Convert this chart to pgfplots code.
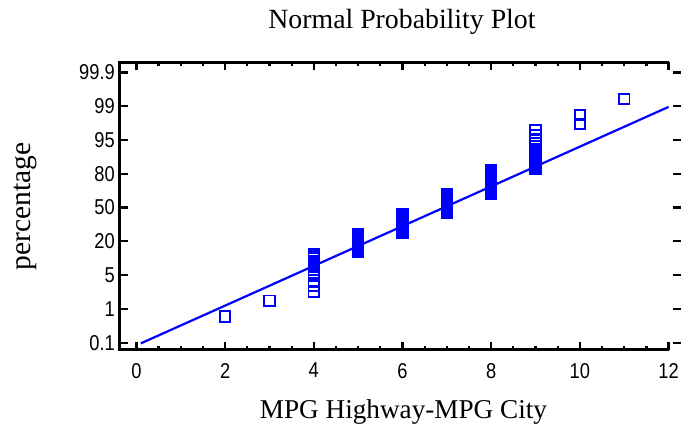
\documentclass[border=0pt]{standalone}
\usepackage{pgfplots}
\pgfplotsset{compat=1.18}
\usepackage{fontspec}
\setmainfont{Liberation Serif}
\newfontfamily\tickfont[FakeStretch=0.85]{Liberation Sans}
\definecolor{pblue}{RGB}{0,0,255}

\pgfplotstableread{
x k
2 0.77
3 1.24
4 1.50
4 1.69
4 1.84
4 1.97
4 2.08
4 2.17
4 2.26
4 2.34
4 2.42
4 2.49
4 2.55
4 2.62
5 2.68
5 2.73
5 2.79
5 2.84
5 2.89
5 2.94
5 2.99
5 3.04
5 3.08
5 3.12
5 3.17
5 3.21
6 3.25
6 3.29
6 3.33
6 3.37
6 3.41
6 3.45
6 3.49
6 3.52
6 3.56
6 3.60
6 3.63
6 3.67
6 3.71
6 3.74
6 3.78
6 3.81
7 3.85
7 3.88
7 3.92
7 3.96
7 3.99
7 4.03
7 4.06
7 4.10
7 4.13
7 4.17
7 4.20
7 4.24
7 4.27
7 4.31
7 4.35
7 4.38
8 4.42
8 4.46
8 4.49
8 4.53
8 4.57
8 4.61
8 4.65
8 4.69
8 4.73
8 4.77
8 4.81
8 4.86
8 4.90
8 4.94
8 4.99
8 5.04
8 5.09
9 5.14
9 5.19
9 5.25
9 5.30
9 5.36
9 5.43
9 5.49
9 5.56
9 5.64
9 5.72
9 5.81
9 5.90
9 6.01
9 6.14
9 6.29
10 6.48
10 6.74
11 7.21
}\datatable

\begin{document}
\begin{tikzpicture}
\path[use as bounding box] (-120pt,-77pt) rectangle (561pt,350pt);
\begin{axis}[
  at={(0pt,0pt)}, anchor=south west,
  scale only axis, width=561pt, height=287.7pt,
  xmin=-0.37, xmax=12.28, ymin=-0.216, ymax=8.30,
  axis line style={draw=none},
  tick align=inside,
  xtick={0,2,...,12}, minor x tick num=3,
  ytick={0,1,2,3,4,5,6,7,8},
  yticklabels={0.1,1,5,20,50,80,95,99,99.9},
  major tick length=8pt, minor tick length=4pt,
  tick style={black, line width=2.2pt},
  /pgf/number format/assume math mode=true,
  ticklabel style={font=\tickfont\fontsize{21.5}{21.5}\selectfont},
  yticklabel style={inner sep=0pt, xshift=-5pt},
  xticklabel style={inner sep=0pt, yshift=-13pt},
  clip=false,
]
\addplot[pblue, line width=2.2pt] coordinates {(0.1,-0.02) (12,6.98)};
\addplot[only marks, mark=square, mark size=5.3pt, pblue, mark options={line width=1.9pt}] table[x=x, y=k] {\datatable};
\draw[line width=3pt, line join=miter] (rel axis cs:0.977866,1) -- (rel axis cs:0,1) -- (rel axis cs:0,0) -- (rel axis cs:0.977866,0);
\end{axis}
\node[anchor=base, font=\fontsize{27.8}{27.8}\selectfont] at (282pt,321.7pt) {Normal Probability Plot};
\node[anchor=base, font=\fontsize{27.2}{27.2}\selectfont] at (283.5pt,-68.3pt) {MPG Highway-MPG City};
\node[anchor=base, rotate=90, font=\fontsize{29.5}{29.5}\selectfont] at (-89pt,143.5pt) {percentage};
\end{tikzpicture}
\end{document}
